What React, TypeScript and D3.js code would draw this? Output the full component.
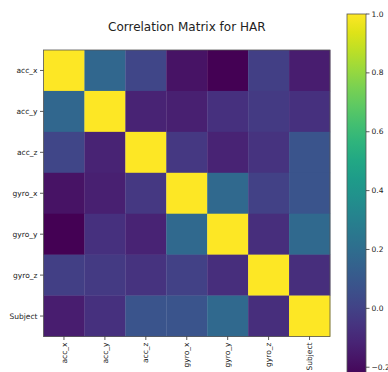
import React from "react";
import * as d3 from "d3";

// Feature names (rows and columns of the correlation matrix)
const features = ["acc_x", "acc_y", "acc_z", "gyro_x", "gyro_y", "gyro_z", "Subject"];

// Pairwise correlations, one array per row
const rowAccX = [1.0, 0.17, 0.02, -0.18, -0.24, -0.01, -0.14];
const rowAccY = [0.17, 1.0, -0.12, -0.13, -0.07, -0.03, -0.07];
const rowAccZ = [0.02, -0.12, 1.0, -0.04, -0.12, -0.06, 0.08];
const rowGyroX = [-0.18, -0.13, -0.04, 1.0, 0.18, 0.0, 0.08];
const rowGyroY = [-0.24, -0.07, -0.12, 0.18, 1.0, -0.08, 0.18];
const rowGyroZ = [-0.01, -0.03, -0.06, 0.0, -0.08, 1.0, -0.08];
const rowSubject = [-0.14, -0.07, 0.08, 0.08, 0.18, -0.08, 1.0];
const matrix = [rowAccX, rowAccY, rowAccZ, rowGyroX, rowGyroY, rowGyroZ, rowSubject];

// Colorbar tick values
const colorbarTicks = [-0.2, 0.0, 0.2, 0.4, 0.6, 0.8, 1.0];

const W = 388;
const H = 372;
const plot = { left: 43.5, top: 50, size: 286.5 };
const cbar = { left: 347, width: 19, top: 14, bottom: 379 };
const vmin = -0.24;
const vmax = 1.0;

const font = "DejaVu Sans, sans-serif";

export default function App() {
  const x = d3.scaleBand<string>().domain(features).range([plot.left, plot.left + plot.size]);
  const y = d3.scaleBand<string>().domain(features).range([plot.top, plot.top + plot.size]);
  const color = d3.scaleSequential(d3.interpolateViridis).domain([vmin, vmax]);
  const cy = d3.scaleLinear().domain([vmin, vmax]).range([cbar.bottom, cbar.top]);

  const stops = d3.range(0, 1.0001, 0.05);

  return (
    <svg
      width={W}
      height={H}
      style={{ position: "absolute", left: 0, top: 0, background: "#fff" }}
      fontFamily={font}
    >
      <defs>
        <linearGradient id="cbGrad" x1="0" y1="1" x2="0" y2="0">
          {stops.map((t) => (
            <stop key={t} offset={t} stopColor={d3.interpolateViridis(t)} />
          ))}
        </linearGradient>
      </defs>

      <text x={plot.left + plot.size / 2} y={31} fontSize={12} textAnchor="middle" fill="#222">
        Correlation Matrix for HAR
      </text>

      {/* heatmap cells */}
      {matrix.map((row, i) =>
        row.map((v, j) => (
          <rect
            key={`${i}-${j}`}
            x={x(features[j])!}
            y={y(features[i])!}
            width={x.bandwidth() + 0.3}
            height={y.bandwidth() + 0.3}
            fill={color(v)}
          />
        ))
      )}
      <rect
        x={plot.left}
        y={plot.top}
        width={plot.size}
        height={plot.size}
        fill="none"
        stroke="#555"
        strokeWidth={0.8}
      />

      {/* y axis */}
      {features.map((f) => {
        const cyy = y(f)! + y.bandwidth() / 2;
        return (
          <g key={`y-${f}`}>
            <line x1={plot.left - 3.5} x2={plot.left} y1={cyy} y2={cyy} stroke="#333" strokeWidth={0.8} />
            <text x={plot.left - 6} y={cyy} dy="0.35em" fontSize={7.5} textAnchor="end" fill="#222">
              {f}
            </text>
          </g>
        );
      })}

      {/* x axis */}
      {features.map((f) => {
        const cxx = x(f)! + x.bandwidth() / 2;
        const yb = plot.top + plot.size;
        return (
          <g key={`x-${f}`}>
            <line x1={cxx} x2={cxx} y1={yb} y2={yb + 3.5} stroke="#333" strokeWidth={0.8} />
            <text
              transform={`translate(${cxx},${yb + 6}) rotate(-90)`}
              dy="0.35em"
              fontSize={7.5}
              textAnchor="end"
              fill="#222"
            >
              {f}
            </text>
          </g>
        );
      })}

      {/* colorbar */}
      <rect
        x={cbar.left}
        y={cbar.top}
        width={cbar.width}
        height={cbar.bottom - cbar.top}
        fill="url(#cbGrad)"
        stroke="#555"
        strokeWidth={0.8}
      />
      {colorbarTicks.map((t) => (
        <g key={`cb-${t}`}>
          <line
            x1={cbar.left + cbar.width}
            x2={cbar.left + cbar.width + 3.5}
            y1={cy(t)}
            y2={cy(t)}
            stroke="#333"
            strokeWidth={0.8}
          />
          <text x={cbar.left + cbar.width + 5.5} y={cy(t)} dy="0.35em" fontSize={7.5} fill="#222">
            {t < 0 ? `\u2212${Math.abs(t).toFixed(1)}` : t.toFixed(1)}
          </text>
        </g>
      ))}
    </svg>
  );
}
